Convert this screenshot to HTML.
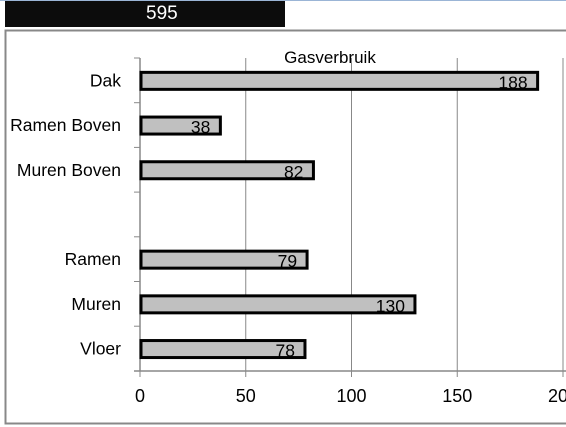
<!DOCTYPE html>
<html><head><meta charset="utf-8"><style>
body{margin:0;width:566px;height:427px;overflow:hidden;background:#fff;font-family:"Liberation Sans",sans-serif;}
</style></head><body>
<div style="position:absolute;left:0;top:0;width:566px;height:1px;background:#9bb5d6"></div>
<div style="position:absolute;left:5px;top:1px;width:280px;height:26px;background:#0c0c0c;color:#fff;font-size:19px;line-height:26px;"><span style="position:absolute;left:141px">595</span></div>
<svg width="566" height="427" style="position:absolute;left:0;top:0" font-family="Liberation Sans, sans-serif">
<rect x="5.5" y="30.5" width="570" height="393" fill="none" stroke="#888" stroke-width="2"/>
<g id="g"></g>
</svg>
<script>
const categories=["Dak","Ramen Boven","Muren Boven","","Ramen","Muren","Vloer"];
const values=[188,38,82,null,79,130,78];
const ticks=[0,50,100,150,200];
const svgG=document.getElementById('g');const NS='http://www.w3.org/2000/svg';
const x0=140,pxPer=2.115,plotTop=58,slot=44.7,axisY=371;
const xs=v=>x0+v*pxPer;
function mk(t,a){const e=document.createElementNS(NS,t);for(const k in a)e.setAttribute(k,a[k]);svgG.appendChild(e);return e;}
const title=mk('text',{x:330,y:63,'text-anchor':'middle','font-size':17,fill:'#000'});title.textContent='Gasverbruik';


ticks.forEach(t=>{
 const l=mk('line',{x1:xs(t),x2:xs(t),y1:plotTop,y2:axisY+6,stroke:'#888','stroke-width':1});
 
 
 const tx=mk('text',{x:xs(t),y:402,'text-anchor':'middle','font-size':18,fill:'#000'});tx.textContent=t;
 
 
});
const ax=mk('line',{x1:x0-6,x2:566,y1:axisY,y2:axisY,stroke:'#888','stroke-width':1.5});


const ay=mk('line',{x1:x0,x2:x0,y1:plotTop,y2:axisY,stroke:'#888','stroke-width':1.5});


categories.forEach((c,i)=>{
 const cy=plotTop+slot*(i+0.5);
 const tk=mk('line',{x1:x0-6,x2:x0,y1:plotTop+slot*i,y2:plotTop+slot*i,stroke:'#888'});
 
 
 if(c){const lb=mk('text',{x:121,y:cy+6,'text-anchor':'end','font-size':17.5,fill:'#000'});lb.textContent=c;
 
 }
 const v=values[i];if(v==null)return;
 const r=mk('rect',{x:x0+1,y:cy-8,width:xs(v)-x0-1,height:17,fill:'#c0c0c0',stroke:'#000','stroke-width':3});
 
 
 const vt=mk('text',{x:xs(v)-10,y:cy+8,'text-anchor':'end','font-size':17.5,fill:'#000'});vt.textContent=v;
 
 
});
</script>
</body></html>
